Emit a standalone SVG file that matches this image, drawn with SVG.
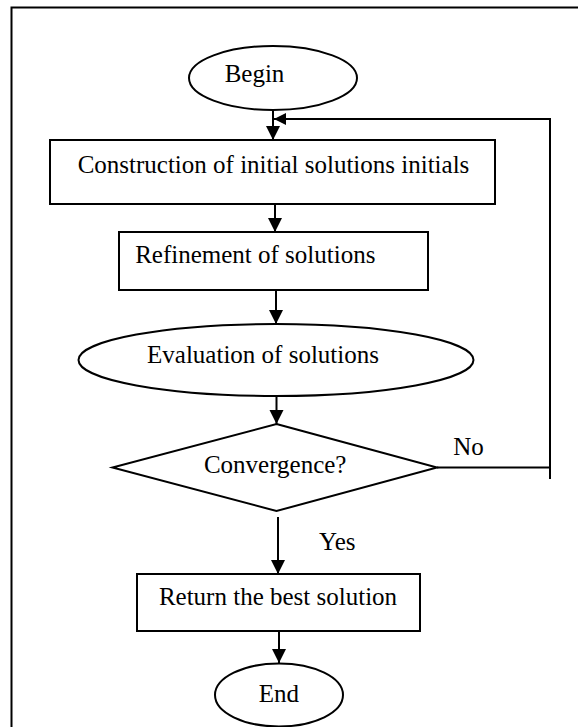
<svg xmlns="http://www.w3.org/2000/svg" width="578" height="727" viewBox="0 0 578 727">
<defs>
<style>
.s{fill:#fff;stroke:#000;stroke-width:2}
.t{font-family:"Liberation Serif","Times New Roman",serif;font-size:25px;fill:#000;text-anchor:middle}
.c{fill:none;stroke:#000;stroke-width:2}
</style>
<marker id="ah" markerUnits="userSpaceOnUse" markerWidth="16" markerHeight="16" refX="14" refY="7" orient="auto">
<path d="M0,0 L14,7 L0,14 Z" fill="#000"/>
</marker>
<marker id="ahs" markerUnits="userSpaceOnUse" markerWidth="14" markerHeight="14" refX="12" refY="6" orient="auto">
<path d="M0,0 L12,6 L0,12 Z" fill="#000"/>
</marker>
</defs>
<rect x="11.5" y="7.5" width="600" height="760" fill="none" stroke="#000" stroke-width="2"/>
<g id="connectors">
<path class="c" d="M273,110 V140" marker-end="url(#ah)"/>
<path class="c" d="M550,119 H274" marker-end="url(#ahs)"/>
<path class="c" d="M275,204 V232" marker-end="url(#ah)"/>
<path class="c" d="M276,290 V324" marker-end="url(#ah)"/>
<path class="c" d="M276.5,396 V424" marker-end="url(#ah)"/>
<path class="c" d="M437,467.5 H550 M550,118 V479"/>
<path class="c" d="M278,517 V574" marker-end="url(#ah)"/>
<path class="c" d="M279,631 V663" marker-end="url(#ah)"/>
<text class="t" x="468.5" y="455">No</text>
<text class="t" x="337.3" y="550">Yes</text>
</g>
<g id="begin">
<ellipse class="s" cx="273" cy="78" rx="84" ry="32"/>
<text class="t" x="254.5" y="82">Begin</text>
</g>
<g id="construction">
<rect class="s" x="50" y="140" width="445" height="64"/>
<text class="t" x="273.5" y="173">Construction of initial solutions initials</text>
</g>
<g id="refinement">
<rect class="s" x="119" y="232" width="309" height="58"/>
<text class="t" x="255.3" y="263">Refinement of solutions</text>
</g>
<g id="evaluation">
<ellipse class="s" cx="276" cy="360" rx="197.5" ry="36"/>
<text class="t" x="263" y="363">Evaluation of solutions</text>
</g>
<g id="convergence">
<polygon class="s" points="276.5,424 437,467.5 276.5,511 112.5,467.5"/>
<text class="t" x="275.2" y="473">Convergence?</text>
</g>
<g id="return">
<rect class="s" x="137" y="574" width="283" height="57"/>
<text class="t" x="278" y="605">Return the best solution</text>
</g>
<g id="end">
<ellipse class="s" cx="279" cy="695" rx="64" ry="31.5"/>
<text class="t" x="278.8" y="702">End</text>
</g>
</svg>
